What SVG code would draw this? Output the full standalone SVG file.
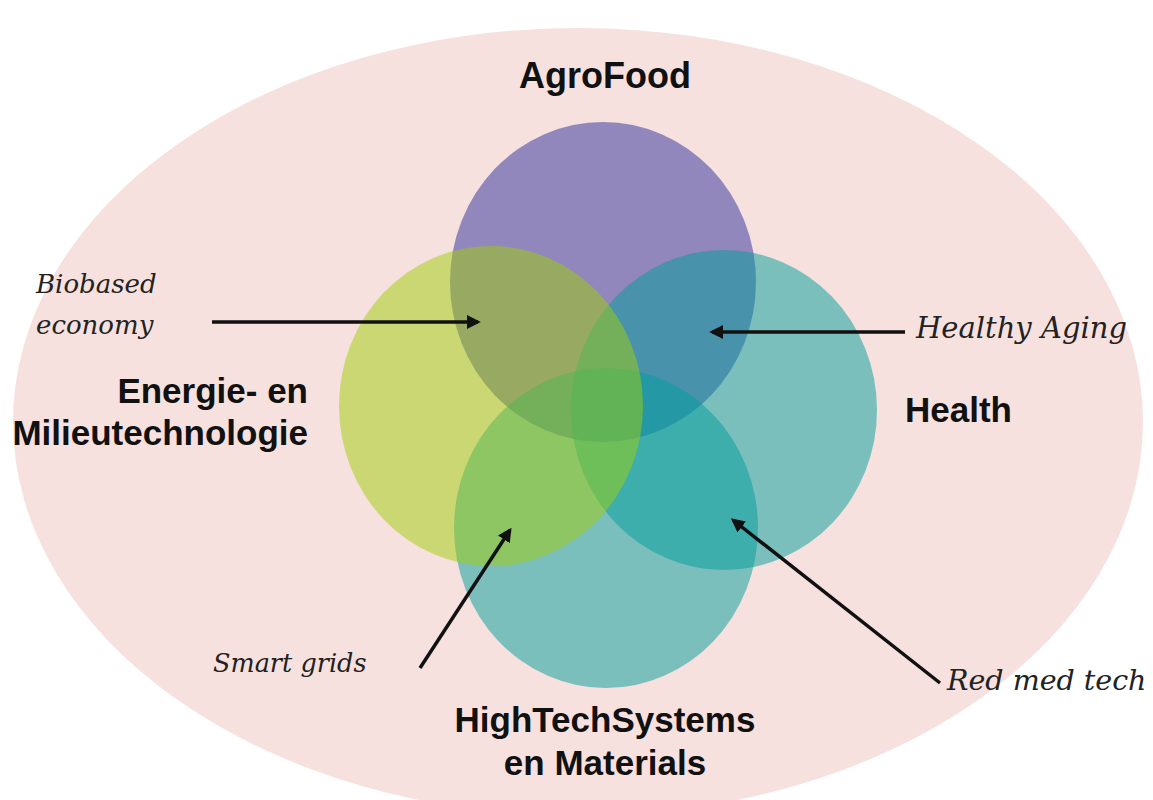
<svg xmlns="http://www.w3.org/2000/svg" width="1153" height="800" viewBox="0 0 1153 800">
<style>
.bold{font-family:"Liberation Sans",Arial,sans-serif;font-weight:bold;font-size:35px;fill:#111}
.ital{font-family:"DejaVu Serif","Liberation Serif",serif;font-style:italic;font-size:26px;fill:#222}
.c{fill-opacity:0.5}
.arrow{stroke:#111;stroke-width:3.5;fill:none;marker-end:url(#ah)}
</style>
<defs>
<marker id="ah" viewBox="0 0 10 10" refX="8" refY="5" markerWidth="4" markerHeight="4" orient="auto" markerUnits="strokeWidth">
<path d="M0,0 L10,5 L0,10 z" fill="#111"/>
</marker>
</defs>
<rect width="1153" height="800" fill="#ffffff"/>
<g id="background">
<ellipse cx="578" cy="422" rx="565" ry="394" fill="#f7e1df"/>
</g>
<g id="agrofood">
<ellipse class="c" cx="603" cy="282" rx="153" ry="160" fill="#2c2e9c"/>
<text class="bold" x="605" y="88" text-anchor="middle" style="font-size:36px">AgroFood</text>
</g>
<g id="hightech">
<ellipse class="c" cx="606" cy="528" rx="152" ry="160" fill="#009e9c"/>
<text class="bold" x="605" y="732" text-anchor="middle">HighTechSystems</text>
<text class="bold" x="605" y="775" text-anchor="middle">en Materials</text>
</g>
<g id="health">
<ellipse class="c" cx="724" cy="410" rx="153" ry="160" fill="#009e9c"/>
<text class="bold" x="905" y="422">Health</text>
</g>
<g id="energie">
<ellipse class="c" cx="491" cy="406" rx="152" ry="160" fill="#a0ce08"/>
<text class="bold" x="308" y="403" text-anchor="end">Energie- en</text>
<text class="bold" x="308" y="445" text-anchor="end">Milieutechnologie</text>
</g>
<g id="connectors">
<line class="arrow" x1="212" y1="322" x2="478" y2="322"/>
<line class="arrow" x1="905" y1="332" x2="712" y2="332"/>
<line class="arrow" x1="420" y1="668" x2="510" y2="530"/>
<line class="arrow" x1="940" y1="683" x2="733" y2="520"/>
</g>
<g id="labels">
<text class="ital" x="36" y="293">Biobased</text>
<text class="ital" x="36" y="334">economy</text>
<text class="ital" x="916" y="338" style="font-size:29px">Healthy Aging</text>
<text class="ital" x="213" y="672" style="font-size:25.5px">Smart grids</text>
<text class="ital" x="947" y="690" style="font-size:28.5px">Red med tech</text>
</g>
</svg>
